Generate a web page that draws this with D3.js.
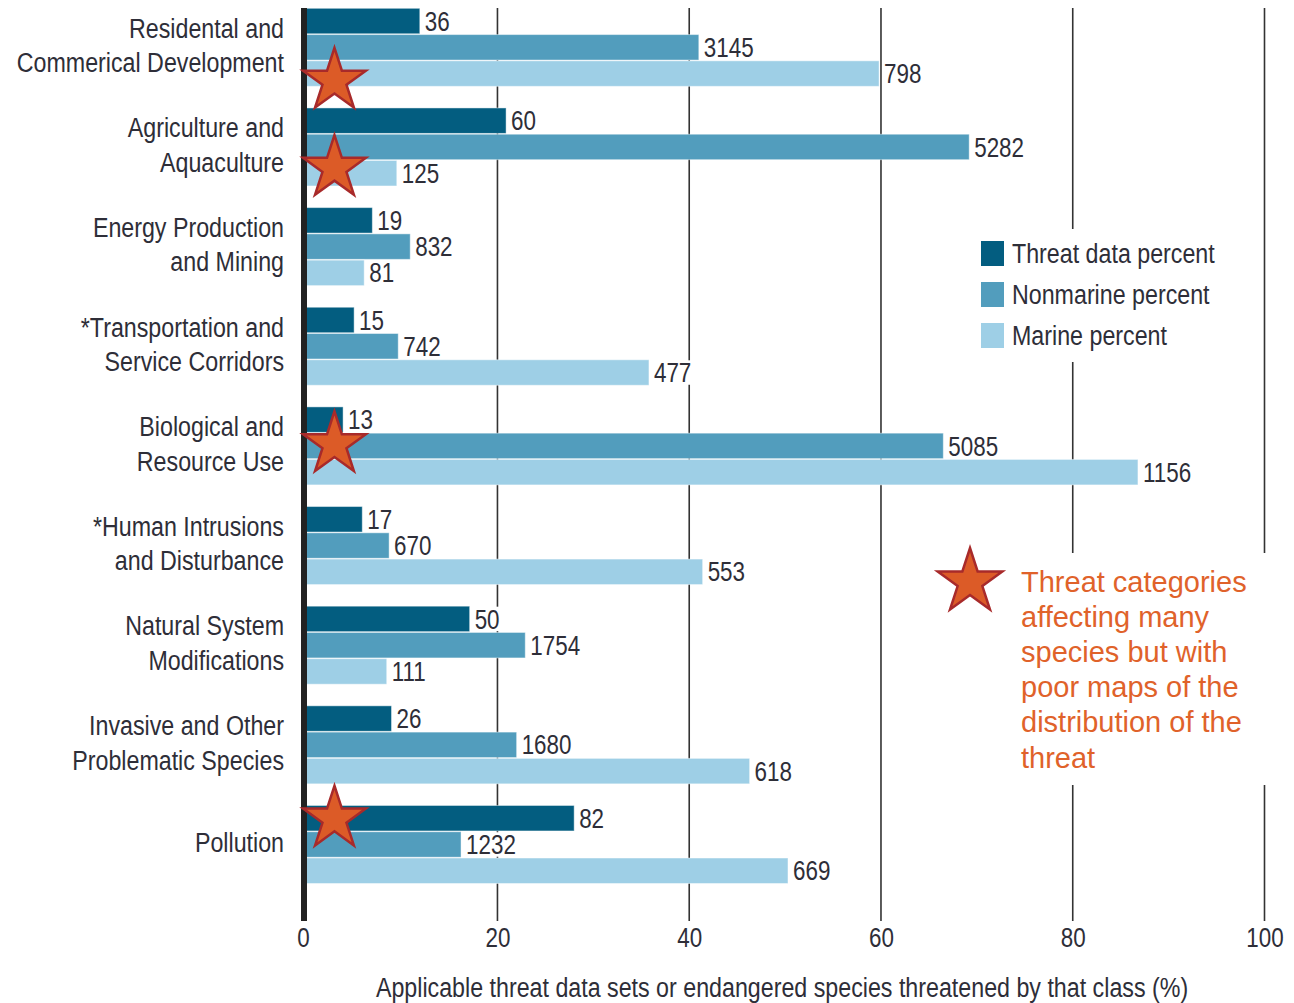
<!DOCTYPE html>
<html>
<head>
<meta charset="utf-8">
<script src="https://cdn.jsdelivr.net/npm/d3@7"></script>
<style>
  html, body { margin: 0; padding: 0; background: #fff; }
  svg { display: block; }
</style>
</head>
<body>
<svg id="chart" width="1294" height="1003"></svg>
<script>
// ---------------- data ----------------
const categories = [
  "Residental and\nCommerical Development",
  "Agriculture and\nAquaculture",
  "Energy Production\nand Mining",
  "*Transportation and\nService Corridors",
  "Biological and\nResource Use",
  "*Human Intrusions\nand Disturbance",
  "Natural System\nModifications",
  "Invasive and Other\nProblematic Species",
  "Pollution"
];
const seriesNames = ["Threat data percent", "Nonmarine percent", "Marine percent"];
const threatPct    = [11.9, 20.9, 6.95, 5.05, 3.9, 5.9, 17.1, 8.95, 28.0];
const nonmarinePct = [41.0, 69.2, 10.9, 9.65, 66.5, 8.7, 22.9, 22.0, 16.2];
const marinePct    = [59.8, 9.5, 6.1, 35.8, 86.8, 41.4, 8.45, 46.3, 50.3];
const threatCounts    = [36, 60, 19, 15, 13, 17, 50, 26, 82];
const nonmarineCounts = [3145, 5282, 832, 742, 5085, 670, 1754, 1680, 1232];
const marineCounts    = [798, 125, 81, 477, 1156, 553, 111, 618, 669];
const xTicks = [0, 20, 40, 60, 80, 100];
const xTitle = "Applicable threat data sets or endangered species threatened by that class (%)";
// starred categories: [category, relative position inside group band]
const starred = [
  ["Residental and\nCommerical Development", 0.93],
  ["Agriculture and\nAquaculture", 0.77],
  ["Biological and\nResource Use", 0.48],
  ["Pollution", 0.17]
];
const noteLines = ["Threat categories", "affecting many", "species but with", "poor maps of the", "distribution of the", "threat"];

// ---------------- styles ----------------
const colors = ["#035d80", "#529dbd", "#9ecfe6"];
const textColor = "#2e2e38";
const orange = "#e0622a";
const FONT = "'Liberation Sans', Arial, sans-serif";
const SQUEEZE = 0.83;

const pct = [threatPct, nonmarinePct, marinePct];
const cnt = [threatCounts, nonmarineCounts, marineCounts];
const rows = categories.map((c, i) => ({
  cat: c,
  vals: [0, 1, 2].map(s => ({ s, v: pct[s][i], n: cnt[s][i] }))
}));

const svg = d3.select("#chart");

const x = d3.scaleLinear().domain([0, 100]).range([305.7, 1264.5]);
const y = d3.scaleBand().domain(categories).range([8.3, 883.5]).paddingInner(0.217).paddingOuter(0);
const ys = d3.scaleBand().domain([0, 1, 2]).range([0, y.bandwidth()]).paddingInner(0.03);

// condensed text helper: horizontally squeezed text anchored at (x, y)
function narrow(parent, xx, yy, str, size, anchor, haloSpan) {
  const gg = parent.append("g").attr("transform", `translate(${xx},${yy}) scale(${SQUEEZE},1)`);
  const t = gg.append("text")
    .attr("font-family", FONT)
    .attr("font-size", size)
    .attr("fill", textColor)
    .attr("text-anchor", anchor || "start")
    .text(str);
  if (haloSpan) {
    const bb = t.node().getBBox();
    gg.insert("rect", "text")
      .attr("x", bb.x - 1).attr("y", haloSpan[0])
      .attr("width", bb.width + 2).attr("height", haloSpan[1] - haloSpan[0])
      .attr("fill", "#fff");
  }
  return gg;
}

const plotTop = 8, plotBottom = 921;

// grid lines
svg.append("g").selectAll("line").data(xTicks.filter(t => t > 0)).join("line")
  .attr("x1", d => x(d)).attr("x2", d => x(d))
  .attr("y1", plotTop).attr("y2", plotBottom)
  .attr("stroke", "#333").attr("stroke-width", 1.6);

// bars
const g = svg.append("g").selectAll("g").data(rows).join("g")
  .attr("transform", d => `translate(0,${y(d.cat)})`);

g.selectAll("rect").data(d => d.vals).join("rect")
  .attr("x", x(0))
  .attr("y", d => ys(d.s))
  .attr("width", d => x(d.v) - x(0))
  .attr("height", ys.bandwidth())
  .attr("fill", d => colors[d.s])
  .attr("stroke", "rgba(255,255,255,0.45)")
  .attr("stroke-width", 1);

g.each(function (d) {
  const gg = d3.select(this);
  const off = 9.6;
  d.vals.forEach(v => {
    const base = ys(v.s) + ys.bandwidth() / 2 + off;
    narrow(gg, x(v.v) + 5, base, v.n, 27, "start",
      [ys(v.s) - base + 0.5, ys(v.s) + ys.bandwidth() - base - 0.5]);
  });
});

// axis line
svg.append("line")
  .attr("x1", 304).attr("x2", 304)
  .attr("y1", plotTop).attr("y2", plotBottom)
  .attr("stroke", "#222").attr("stroke-width", 6);

// x axis tick labels
const xAxis = d3.axisBottom(x).tickValues(xTicks).tickSize(0).tickPadding(0).tickFormat(() => "");
const ax = svg.append("g").attr("transform", `translate(0,${plotBottom})`).call(xAxis);
ax.select(".domain").remove();
ax.selectAll(".tick").each(function (d) {
  narrow(d3.select(this), d === 0 ? -2.7 : 0, 26, String(d), 27, "middle");
});

// axis title
narrow(svg, 782, 997, xTitle, 28, "middle");

// category labels
categories.forEach(c => {
  const lines = c.split("\n");
  const cy = y(c) + y.bandwidth() / 2;
  lines.forEach((ln, k) => {
    narrow(svg, 284, cy + 7.5 - (lines.length - 1) * 17.25 + k * 34.5, ln, 28, "end");
  });
});

// star path
function starPath(R) {
  const r = R * 0.382;
  const pts = [];
  for (let i = 0; i < 10; i++) {
    const a = -Math.PI / 2 + i * Math.PI / 5;
    const rad = i % 2 === 0 ? R : r;
    pts.push([rad * Math.cos(a), rad * Math.sin(a)]);
  }
  return d3.line()(pts) + "Z";
}

svg.append("g").selectAll("path").data(starred).join("path")
  .attr("d", starPath(33))
  .attr("transform", d => `translate(${x(3)},${y(d[0]) + d[1] * y.bandwidth()})`)
  .attr("fill", "#dc5b27")
  .attr("stroke", "#a82a2a")
  .attr("stroke-width", 2.5);

// legend
const leg = svg.append("g");
leg.append("rect").attr("x", 972).attr("y", 229).attr("width", 252).attr("height", 133).attr("fill", "#fff");
const li = leg.selectAll("g").data(seriesNames).join("g")
  .attr("transform", (d, i) => `translate(981,${241 + i * 41})`);
li.append("rect").attr("width", 23).attr("height", 25).attr("fill", (d, i) => colors[i]);
li.each(function (d) { narrow(d3.select(this), 31, 22, d, 28, "start"); });

// note
const note = svg.append("g");
note.append("rect").attr("x", 930).attr("y", 553).attr("width", 350).attr("height", 232).attr("fill", "#fff");
note.append("path").attr("d", starPath(34))
  .attr("transform", "translate(970,582)")
  .attr("fill", "#dc5b27").attr("stroke", "#a82a2a").attr("stroke-width", 2.5);
note.append("text")
  .attr("font-family", FONT)
  .attr("font-size", 29)
  .attr("fill", orange)
  .selectAll("tspan").data(noteLines).join("tspan")
  .attr("x", 1021)
  .attr("y", (d, i) => 591.5 + i * 35.2)
  .text(d => d);
</script>
</body>
</html>
